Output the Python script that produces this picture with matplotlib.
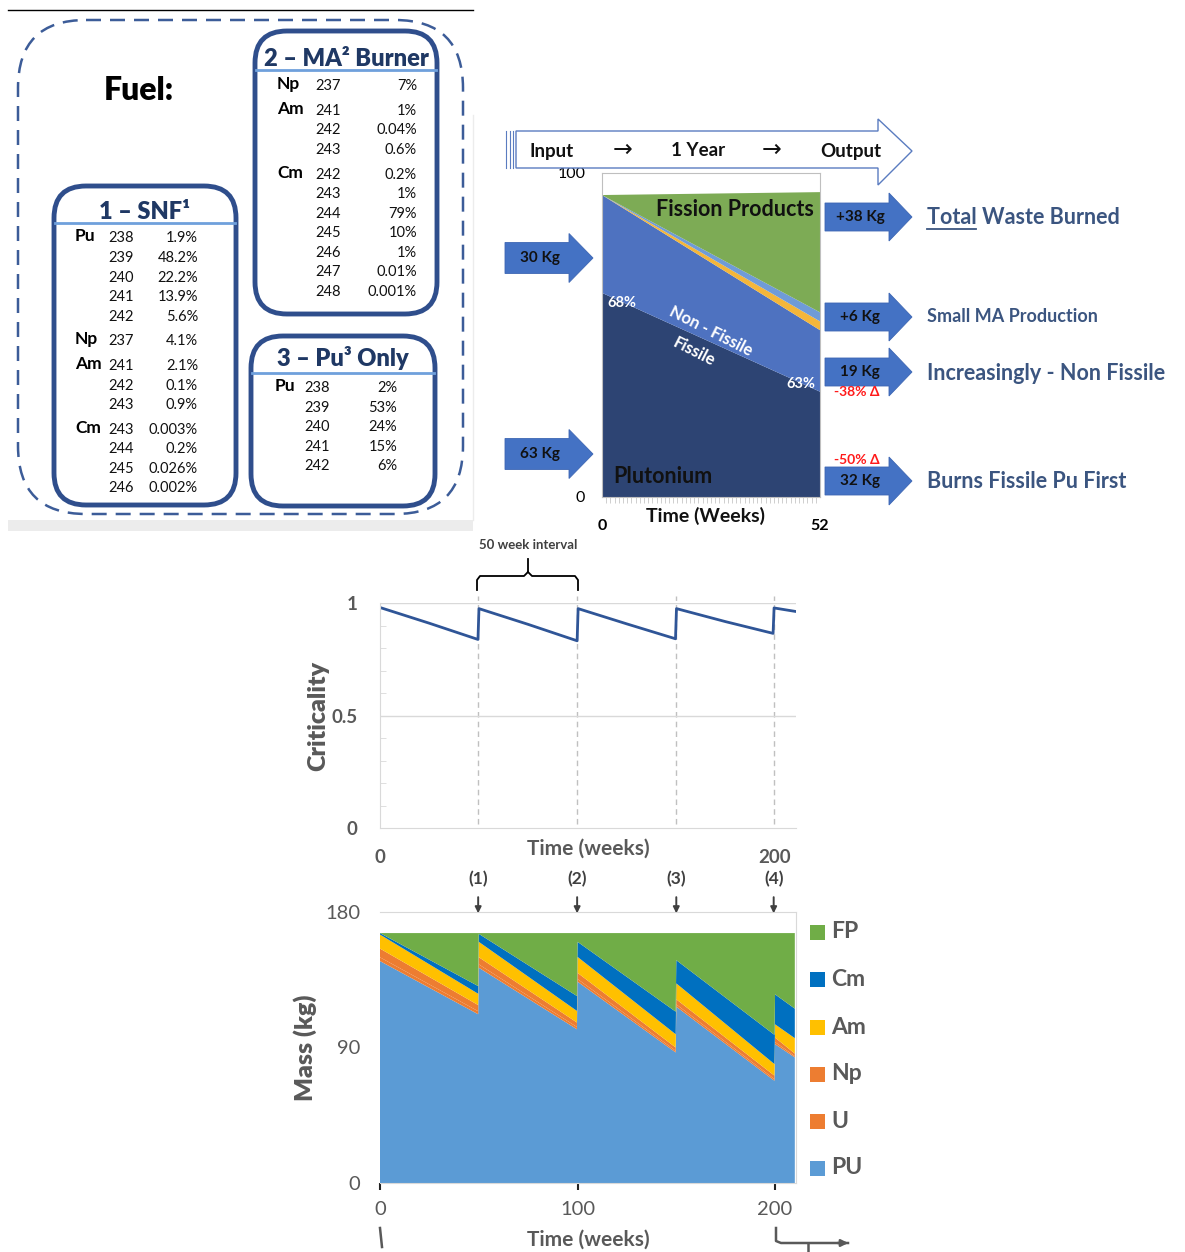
import matplotlib
matplotlib.use("Agg")
import matplotlib.pyplot as plt
from matplotlib.patches import Polygon, FancyBboxPatch, Rectangle
from matplotlib.ticker import MultipleLocator

plt.rcParams['font.family'] = ['Lato', 'DejaVu Sans']

W, H = 1185, 1252

# ---------- fuel tables ----------
snf_rows = [("Pu", "238", "1.9%"), ("", "239", "48.2%"), ("", "240", "22.2%"),
            ("", "241", "13.9%"), ("", "242", "5.6%"), ("Np", "237", "4.1%"),
            ("Am", "241", "2.1%"), ("", "242", "0.1%"), ("", "243", "0.9%"),
            ("Cm", "243", "0.003%"), ("", "244", "0.2%"), ("", "245", "0.026%"),
            ("", "246", "0.002%")]
ma_rows = [("Np", "237", "7%"), ("Am", "241", "1%"), ("", "242", "0.04%"),
           ("", "243", "0.6%"), ("Cm", "242", "0.2%"), ("", "243", "1%"),
           ("", "244", "79%"), ("", "245", "10%"), ("", "246", "1%"),
           ("", "247", "0.01%"), ("", "248", "0.001%")]
pu_rows = [("Pu", "238", "2%"), ("", "239", "53%"), ("", "240", "24%"),
           ("", "241", "15%"), ("", "242", "6%")]

# ---------- one year burn ----------
year_weeks = [0, 52]
year_fissile = [63.0, 32.5]
year_nonfissile = [30.2, 19.0]
year_am = [0.0, 2.7]
year_cm = [0.0, 2.8]
year_fp = [0.0, 37.1]

# ---------- criticality ----------
crit_weeks = [0, 25, 49.6, 50.1, 75, 99.8, 100.3, 125, 149.6, 150.1, 175, 199.0, 199.5, 210]
crit_vals = [0.980, 0.910, 0.838, 0.975, 0.905, 0.832, 0.975, 0.907, 0.841,
             0.975, 0.917, 0.865, 0.978, 0.963]
refuel_weeks = [49.7, 99.8, 150.0, 199.3]
refuel_labels = ["(1)", "(2)", "(3)", "(4)"]

# ---------- mass ----------
mass_weeks = [0, 49.7, 50, 99.7, 100, 149.7, 150, 199.7, 200, 210]
mass_pu = [147.4, 112.1, 143.0, 102.1, 133.7, 86.7, 117.1, 67.9, 92.2, 83.4]
mass_u = [2.5, 2.0, 2.2, 1.5, 1.8, 1.1, 1.5, 1.1, 1.4, 0.8]
mass_np = [5.8, 4.1, 4.8, 3.0, 4.1, 2.2, 3.4, 2.3, 3.0, 1.8]
mass_am = [9.3, 7.5, 10.2, 7.7, 10.6, 8.8, 10.6, 7.7, 8.8, 10.2]
mass_cm = [1.0, 5.1, 5.3, 9.9, 10.0, 15.0, 15.4, 19.4, 19.9, 19.6]
mass_fp = [0.0, 35.2, 0.5, 41.8, 5.8, 52.2, 18.0, 67.6, 40.7, 50.2]
mass_names = ["PU", "U", "Np", "Am", "Cm", "FP"]
mass_colors = ["#5b9bd5", "#ed7d31", "#ed7d31", "#ffc000", "#0070c0", "#70ad47"]

GRAY = "#595959"
NAVY = "#1f3864"
ARROW = "#4472c4"
SLATE = "#3b5580"


def rect(x0, y0, x1, y1):
    return [x0 / W, 1 - y1 / H, (x1 - x0) / W, (y1 - y0) / H]


fig = plt.figure(figsize=(W / 100, H / 100), dpi=100)

# =============================================================
# one year stacked chart
# =============================================================
ax1 = fig.add_axes(rect(602, 173, 820, 497))
ax1.stackplot(year_weeks, year_fissile, year_nonfissile, year_am, year_cm, year_fp,
              colors=["#2d4473", "#4e72c0", "#f4b63a", "#6f9bd8", "#7dab55"], lw=0)
ax1.set_xlim(0, 52)
ax1.set_ylim(0, 100)
for s in ax1.spines.values():
    s.set_color("#bfbfbf")
    s.set_linewidth(0.8)
ax1.set_yticks([0, 100])
ax1.set_yticklabels(["0", "100"], fontsize=11.5)
ax1.tick_params(axis="y", length=0, pad=12)
ax1.set_xticks([0, 52])
ax1.set_xticklabels(["0", "52"], fontsize=11.5, fontweight="bold")
ax1.tick_params(axis="x", length=0, pad=16)
ax1.xaxis.set_minor_locator(MultipleLocator(1))
ax1.tick_params(axis="x", which="minor", length=4, color="#c8c8c8", width=0.6)

ax1.text(0.61, 0.886, "Fission Products", transform=ax1.transAxes, ha="center",
         va="center", fontsize=15.5, fontweight="bold", color="#111111")
ax1.text(0.28, 0.063, "Plutonium", transform=ax1.transAxes, ha="center",
         va="center", fontsize=15.5, fontweight="bold", color="#111111")
ax1.text(0.09, 0.60, "68%", transform=ax1.transAxes, ha="center", va="center",
         fontsize=10.5, fontweight="bold", color="white")
ax1.text(0.91, 0.35, "63%", transform=ax1.transAxes, ha="center", va="center",
         fontsize=10.5, fontweight="bold", color="white")
ax1.text(0.50, 0.513, "Non - Fissile", transform=ax1.transAxes, ha="center",
         va="center", fontsize=12, fontweight="bold", color="white", rotation=-27)
ax1.text(0.42, 0.447, "Fissile", transform=ax1.transAxes, ha="center",
         va="center", fontsize=12, fontweight="bold", color="white", rotation=-27)

# =============================================================
# criticality
# =============================================================
ax2 = fig.add_axes(rect(380, 603, 796, 828))
ax2.plot(crit_weeks, crit_vals, color="#2f5597", lw=2)
ax2.set_xlim(0, 210.6)
ax2.set_ylim(0, 1)
for wk in refuel_weeks:
    ax2.axvline(wk, ymin=0.02, ymax=1.03, color="#c0c0c0", lw=1,
                ls=(0, (4, 3)), clip_on=False, zorder=0)
ax2.axhline(0.5, color="#d9d9d9", lw=1, zorder=0)
ax2.axhline(1.0, color="#d9d9d9", lw=1, zorder=0)
for k in ["top", "right"]:
    ax2.spines[k].set_visible(False)
for k in ["left", "bottom"]:
    ax2.spines[k].set_color("#d9d9d9")
ax2.set_yticks([0, 0.5, 1])
ax2.set_yticklabels(["0", "0.5", "1"], fontsize=13.5, fontweight="bold", color=GRAY)
ax2.yaxis.set_minor_locator(MultipleLocator(0.1))
ax2.tick_params(axis="y", which="major", length=0, pad=16)
ax2.tick_params(axis="y", which="minor", length=4, direction="in", color="#d9d9d9")
ax2.set_xticks([0, 200])
ax2.set_xticklabels(["0", "200"], fontsize=13.5, fontweight="bold", color=GRAY)
ax2.tick_params(axis="x", length=0, pad=15)
ax2.set_ylabel("Criticality", fontsize=18, fontweight="heavy", color=GRAY, labelpad=2)

# =============================================================
# mass
# =============================================================
ax3 = fig.add_axes(rect(380, 912, 796, 1183))
ax3.stackplot(mass_weeks, mass_pu, mass_u, mass_np, mass_am, mass_cm, mass_fp,
              colors=mass_colors, lw=0)
ax3.set_xlim(0, 210.6)
ax3.set_ylim(0, 180)
for s in ax3.spines.values():
    s.set_color("#d9d9d9")
ax3.spines["left"].set_visible(False)
ax3.set_yticks([0, 90, 180])
ax3.set_yticklabels(["0", "90", "180"], fontsize=14.5, color=GRAY)
ax3.tick_params(axis="y", length=0, pad=14)
ax3.set_xticks([0, 100, 200])
ax3.set_xticklabels(["0", "100", "200"], fontsize=14.5, color=GRAY)
ax3.tick_params(axis="x", length=5, width=1.5, color="#222222", pad=8)
ax3.set_ylabel("Mass (kg)", fontsize=18, fontweight="heavy", color=GRAY, labelpad=6)
for wk, lbl in zip(refuel_weeks, refuel_labels):
    ax3.annotate("", xy=(wk, 0.985), xycoords=("data", "axes fraction"),
                 xytext=(wk, 1.065), textcoords=("data", "axes fraction"),
                 arrowprops=dict(arrowstyle="-|>", color="#404040", lw=1.4,
                                 mutation_scale=9))
    ax3.text(wk, 1.122, lbl, transform=ax3.get_xaxis_transform(), ha="center",
             va="center", fontsize=12.5, fontweight="bold", color="#404040")

# =============================================================
# overlay in pixel coords
# =============================================================
ov = fig.add_axes([0, 0, 1, 1], zorder=10)
ov.set_xlim(0, W)
ov.set_ylim(H, 0)
ov.axis("off")

# ---------- fuel panel ----------
ov.plot([8, 473], [10, 10], color="black", lw=1)
ov.add_patch(Rectangle((8, 520), 465, 11, color="#ececec", lw=0))
ov.plot([473, 473], [115, 520], color="#ececec", lw=1)
ov.add_patch(FancyBboxPatch((18, 20), 445, 494, boxstyle="round,pad=0,rounding_size=68",
                            fill=False, ec="#3c5c98", lw=1.8, ls=(0, (6, 3.6))))
ov.text(139, 90, "Fuel:", ha="center", va="center", fontsize=23,
        fontweight="heavy", color="black")


def fuel_box(x0, y0, x1, y1, title, ty, sy, rows, row_y, ex, ix, px):
    ov.add_patch(FancyBboxPatch((x0, y0), x1 - x0, y1 - y0,
                                boxstyle="round,pad=0,rounding_size=32",
                                fill=False, ec="#2f4e8c", lw=3.5))
    ov.text((x0 + x1) / 2, ty, title, ha="center", va="center", fontsize=17,
            fontweight="heavy", color=NAVY)
    ov.plot([x0 + 1, x1 - 1], [sy, sy], color="#6fa0dc", lw=2)
    for (el, iso, pct), y in zip(rows, row_y):
        if el:
            ov.text(ex, y - 2, el, ha="left", va="center", fontsize=12.5,
                    fontweight="bold", color="black")
        ov.text(ix, y, iso, ha="left", va="center", fontsize=10.5, color="#111111")
        ov.text(px, y, pct, ha="right", va="center", fontsize=10.5, color="#111111")


fuel_box(54, 186, 236, 505, "1 \u2013 SNF\u00b9", 212, 223, snf_rows,
         [238, 258, 278, 297, 317, 341, 366, 386, 405, 430, 449, 469, 488],
         75, 108, 198)
fuel_box(255, 31, 437, 314, "2 \u2013 MA\u00b2 Burner", 59, 70, ma_rows,
         [86, 111, 130, 150, 175, 194, 214, 233, 253, 272, 292],
         277, 315, 417)
fuel_box(251, 336, 435, 506, "3 \u2013 Pu\u00b3 Only", 358, 373, pu_rows,
         [388, 408, 427, 447, 466], 275, 304, 397)

# ---------- input / output arrow ----------
ov.add_patch(Polygon([(516, 131), (878, 131), (878, 119), (912, 151), (878, 185),
                      (878, 168), (516, 168)], closed=True, fc="white",
                     ec="#5a7cc0", lw=1))
for xv in [506, 510, 513]:
    ov.plot([xv, xv], [131, 168], color="#5a7cc0", lw=0.8)
for x, s in [(552, "Input"), (698, "1 Year"), (851, "Output")]:
    ov.text(x, 151, s, ha="center", va="center", fontsize=13.5,
            fontweight="bold", color="#111111")
for x in [623, 772]:
    ov.text(x, 150, "\u2192", ha="center", va="center", fontsize=17,
            color="#111111", family=["DejaVu Sans"])


def block_arrow(x0, x1, yc, body_h, head_h, head_len, label):
    xs = x1 - head_len
    pts = [(x0, yc - body_h / 2), (xs, yc - body_h / 2), (xs, yc - head_h / 2),
           (x1, yc), (xs, yc + head_h / 2), (xs, yc + body_h / 2), (x0, yc + body_h / 2)]
    ov.add_patch(Polygon(pts, closed=True, fc=ARROW, ec="#3d66b3", lw=0.6))
    ov.text((x0 + xs) / 2 + 3, yc, label, ha="center", va="center", fontsize=11,
            fontweight="bold", color="#111111")


block_arrow(505, 593, 258, 31, 49, 24, "30 Kg")
block_arrow(505, 593, 454, 31, 49, 24, "63 Kg")
block_arrow(825, 912, 217, 28, 48, 23, "+38 Kg")
block_arrow(825, 912, 317, 28, 48, 23, "+6 Kg")
block_arrow(825, 912, 372, 28, 48, 23, "19 Kg")
block_arrow(825, 912, 481, 28, 48, 23, "32 Kg")

ov.text(857, 392, "-38% \u0394", ha="center", va="center", fontsize=10,
        fontweight="bold", color="#ff1a1a")
ov.text(857, 460, "-50% \u0394", ha="center", va="center", fontsize=10,
        fontweight="bold", color="#ff1a1a")

ov.text(927, 217, "Total Waste Burned", ha="left", va="center", fontsize=15.5,
        fontweight="bold", color=SLATE)
ov.plot([927, 976], [229, 229], color=SLATE, lw=1.3)
ov.text(927, 316, "Small MA Production", ha="left", va="center", fontsize=13,
        fontweight="bold", color=SLATE)
ov.text(927, 373, "Increasingly - Non Fissile", ha="left", va="center", fontsize=15.5,
        fontweight="bold", color=SLATE)
ov.text(927, 481, "Burns Fissile Pu First", ha="left", va="center", fontsize=15.5,
        fontweight="bold", color=SLATE)

ov.text(705, 516, "Time (Weeks)", ha="center", va="center", fontsize=14,
        fontweight="bold", color="#111111")

# ---------- criticality extras ----------
ov.text(528, 545, "50 week interval", ha="center", va="center", fontsize=9.5,
        fontweight="bold", color="#404040")
ov.plot([477, 477, 480, 524, 528, 528], [590, 580, 576, 576, 572, 559], color="black", lw=1.3)
ov.plot([528, 532, 575, 578, 578], [572, 576, 576, 580, 590], color="black", lw=1.3)
ov.text(588, 849, "Time (weeks)", ha="center", va="center", fontsize=15,
        fontweight="bold", color=GRAY)

# ---------- mass extras ----------
ov.text(588, 1240, "Time (weeks)", ha="center", va="center", fontsize=15,
        fontweight="bold", color=GRAY)
legend_y = [1168, 1121, 1074, 1027, 979, 932]
for name, col, y in zip(mass_names, mass_colors, legend_y):
    ov.add_patch(Rectangle((810, y - 7.5), 15, 15, color=col, lw=0))
    ov.text(831, y, name, ha="left", va="center", fontsize=16.5,
            fontweight="bold", color=GRAY)
ov.plot([380, 382], [1228, 1247], color=GRAY, lw=1.8)
ov.plot([776, 776, 781, 848], [1228, 1241, 1243, 1243], color=GRAY, lw=1.8)
ov.annotate("", xy=(851, 1243), xytext=(835, 1243),
            arrowprops=dict(arrowstyle="-|>", color=GRAY, lw=1.8, mutation_scale=10))
ov.plot([808, 808], [1243, 1252], color=GRAY, lw=1.8)

fig.savefig("out.png", dpi=100, facecolor="white")
